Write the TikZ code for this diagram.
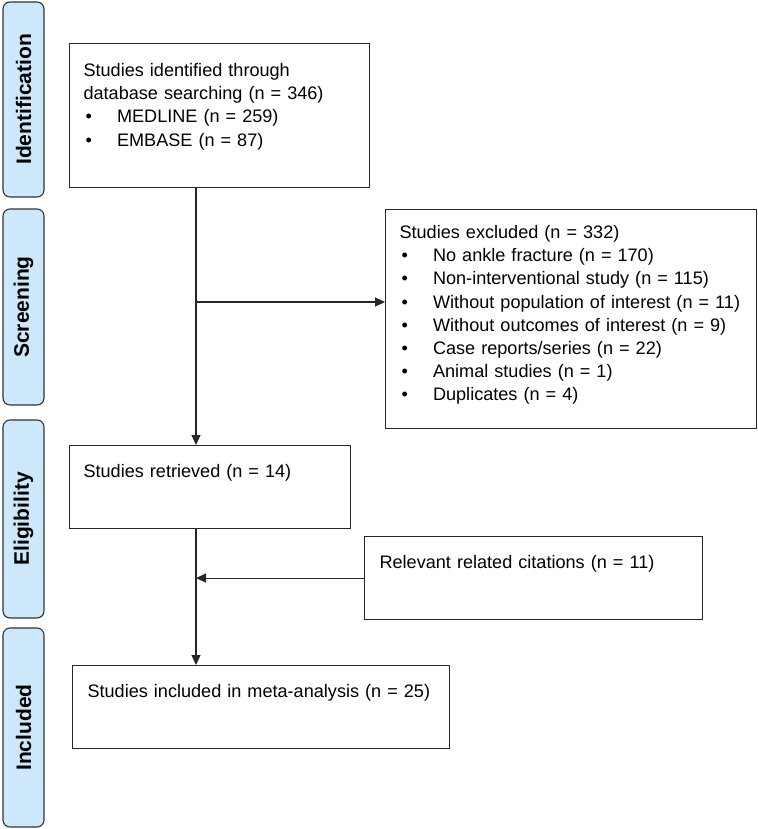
\documentclass[tikz,border=0pt]{standalone}
\usepackage{fontspec}
\setmainfont{Liberation Sans}
\usetikzlibrary{arrows.meta}
\definecolor{phasecol}{RGB}{205,232,251}
\newcommand{\bul}{\hspace*{2pt}\makebox[31.5pt][l]{\textbullet}}
\begin{document}
\begin{tikzpicture}[x=1pt, y=-1pt, line width=1.1pt, draw=black!85,
    >={Triangle[length=10pt,width=9pt]},
    phase/.style={draw=black!80, fill=phasecol, rounded corners=7pt, rotate=90,
      minimum height=41pt, inner sep=0pt, font=\fontsize{21}{21}\selectfont\bfseries},
    box/.style={draw=black!85, anchor=north west, align=left, inner xsep=14pt,
      inner ysep=0pt, font=\fontsize{18.1}{23.2}\selectfont}]
  \useasboundingbox (0,0) rectangle (757,829);
  % phases on the left
  \node[phase, minimum width=195pt] (idph) at (23.5,99.5) {Identification};
  \node[phase, minimum width=196pt] (scph) at (23.5,307) {Screening};
  \node[phase, minimum width=198pt] (elph) at (23.5,519) {Eligibility};
  \node[phase, minimum width=199pt] (inph) at (23.5,727.5) {Included};
  % boxes
  \node[box, text width=272pt, text height=33pt, text depth=111pt] (ident) at (69,43)
    {Studies identified through\\database searching (n = 346)\\
     \bul MEDLINE (n = 259)\\\bul EMBASE (n = 87)};
  \node[box, text width=343pt, text height=29pt, text depth=190pt] (excl) at (385,209)
    {Studies excluded (n = 332)\\
     \bul No ankle fracture (n = 170)\\
     \bul Non-interventional study (n = 115)\\
     \bul Without population of interest (n = 11)\\
     \bul Without outcomes of interest (n = 9)\\
     \bul Case reports/series (n = 22)\\
     \bul Animal studies (n = 1)\\
     \bul Duplicates (n = 4)};
  \node[box, text width=253pt, text height=32pt, text depth=51pt] (retr) at (69,445)
    {Studies retrieved (n = 14)};
  \node[box, inner xsep=15pt, text width=308pt, text height=32pt, text depth=51pt] (rel) at (364,536)
    {Relevant related citations (n = 11)};
  \node[box, inner xsep=15pt, text width=347pt, text height=32pt, text depth=51pt] (incl) at (72,665)
    {Studies included in meta-analysis (n = 25)};
  % connectors
  \coordinate (trunk) at (196,0);
  \coordinate (split) at (196,302);
  \draw[->] (ident.south -| trunk) -- (retr.north -| trunk);
  \draw[->] (split) -- (split -| excl.west);
  \draw[->] (retr.south -| trunk) -- (incl.north -| trunk);
  \draw[->] (rel.west) -- (rel.west -| trunk);
\end{tikzpicture}
\end{document}
